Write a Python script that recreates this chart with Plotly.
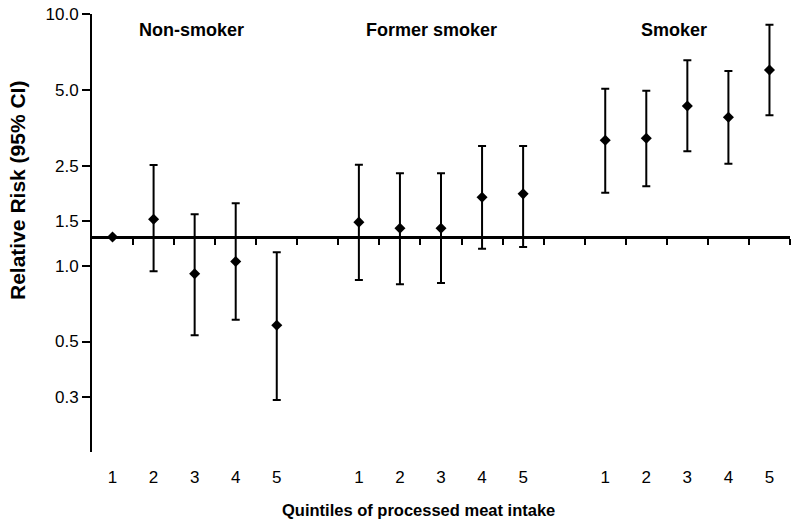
import math
import plotly.graph_objects as go

groups = ["Non-smoker", "Former smoker", "Smoker"]
quintiles = [1, 2, 3, 4, 5]

rr_non = [1.30, 1.53, 0.93, 1.04, 0.58]
lo_non = [1.30, 0.95, 0.53, 0.61, 0.293]
hi_non = [1.30, 2.51, 1.60, 1.77, 1.13]

rr_former = [1.49, 1.41, 1.41, 1.87, 1.93]
lo_former = [0.877, 0.844, 0.854, 1.168, 1.187]
hi_former = [2.52, 2.33, 2.33, 2.99, 2.99]

rr_smoker = [3.15, 3.21, 4.31, 3.89, 5.99]
lo_smoker = [1.95, 2.07, 2.85, 2.54, 3.96]
hi_smoker = [5.05, 4.96, 6.55, 5.94, 9.07]

y_ticks = [0.3, 0.5, 1.0, 1.5, 2.5, 5.0, 10.0]
y_ticktext = ["0.3", "0.5", "1.0", "1.5", "2.5", "5.0", "10.0"]
ref_value = 1.3
y_min, y_max = 0.182, 10.0

FONT = "Arial, 'Liberation Sans', sans-serif"

series = [(rr_non, lo_non, hi_non), (rr_former, lo_former, hi_former),
          (rr_smoker, lo_smoker, hi_smoker)]

xs, ys, ep, em, tick_text = [], [], [], [], []
for g, (rr, lo, hi) in enumerate(series):
    for q, v, l, h in zip(quintiles, rr, lo, hi):
        xs.append(g * 6 + q)
        ys.append(v)
        ep.append(h - v)
        em.append(v - l)
        tick_text.append(str(q))

fig = go.Figure()
fig.add_trace(go.Scatter(
    x=xs, y=ys, mode="markers",
    marker=dict(symbol="diamond", size=8.5, color="black"),
    error_y=dict(type="data", symmetric=False, array=ep, arrayminus=em,
                 color="black", thickness=2, width=4),
    showlegend=False, hoverinfo="skip",
))
# invisible trace on the reference-line axis
fig.add_trace(go.Scatter(x=[1], y=[ref_value], xaxis="x2", mode="markers",
                         marker=dict(opacity=0), showlegend=False, hoverinfo="skip"))

lmin, lmax = math.log10(y_min), math.log10(y_max)
ref_pos = (math.log10(ref_value) - lmin) / (lmax - lmin)
x_range = [0.5, 17.5]

fig.update_layout(
    width=800, height=523,
    margin=dict(l=92, r=10, t=14, b=71, autoexpand=False),
    paper_bgcolor="white", plot_bgcolor="white",
    font=dict(family=FONT, color="black", size=17),
    xaxis=dict(range=x_range, tickvals=xs, ticktext=tick_text, automargin=False,
               showline=False, showgrid=False, zeroline=False, ticks="",
               ticklabelstandoff=13, tickfont=dict(size=17)),
    xaxis2=dict(range=x_range, overlaying="x", anchor="free", position=ref_pos,
                side="bottom", showline=True, linecolor="black", linewidth=2.5,
                ticks="outside", ticklen=6, tickwidth=2, tickcolor="black",
                tickvals=[i + 0.5 for i in range(1, 18)], showticklabels=False,
                showgrid=False, zeroline=False, automargin=False),
    yaxis=dict(type="log", range=[lmin, lmax + 1e-9], tickvals=y_ticks, ticktext=y_ticktext,
               showline=True, linecolor="black", linewidth=2, ticks="outside",
               ticklen=8, tickwidth=2, tickcolor="black", showgrid=False, automargin=False,
               zeroline=False, tickfont=dict(size=17), ticklabeloverflow="allow"),
)

label_x = [2.92, 8.77, 14.67]
for gx, name in zip(label_x, groups):
    fig.add_annotation(x=gx, y=0.963, xref="x", yref="paper", text=f"<b>{name}</b>",
                       showarrow=False, font=dict(size=18, family=FONT),
                       xanchor="center", yanchor="middle")

fig.add_annotation(x=(418 - 92) / 698, y=(452 - 510) / 438, xref="paper", yref="paper",
                   text="<b>Quintiles of processed meat intake</b>", showarrow=False,
                   font=dict(size=16.5, family=FONT), xanchor="center", yanchor="middle")
fig.add_annotation(x=(18 - 92) / 698, y=(452 - 191) / 438, xref="paper", yref="paper",
                   text="<b>Relative Risk (95% CI)</b>", textangle=-90, showarrow=False,
                   font=dict(size=21, family=FONT), xanchor="center", yanchor="middle")

fig.write_html(
    "out.html",
    config={"displayModeBar": False, "staticPlot": True},
    post_script="document.documentElement.style.margin='0';"
                "document.body.style.margin='0';document.body.style.overflow='hidden';",
)
